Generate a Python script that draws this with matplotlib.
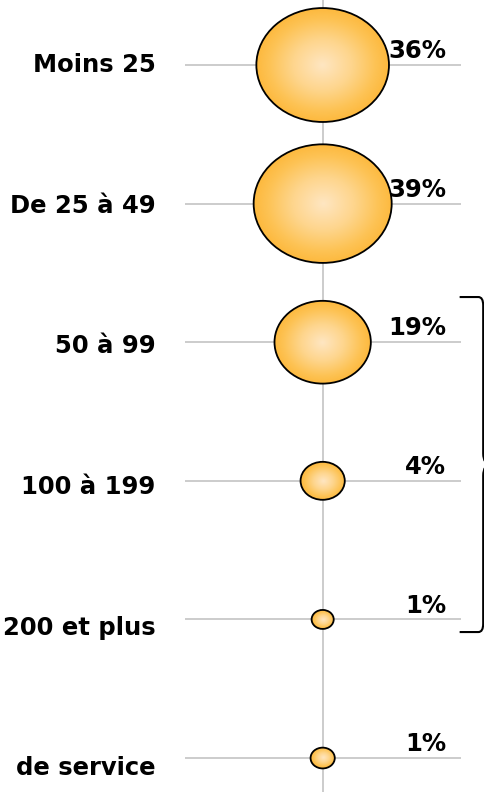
import numpy as np
import matplotlib
matplotlib.use('Agg')
import matplotlib.pyplot as plt
from matplotlib.patches import Ellipse, PathPatch
from matplotlib.path import Path
from matplotlib.colors import LinearSegmentedColormap

# tranches d'effectif et part des entreprises (%)
categories = ['Moins 25', 'De 25 à 49', '50 à 99', '100 à 199', '200 et plus', 'de service']
shares = [36, 39, 19, 4, 1, 1.2]

GRID = '#c4c4c4'
bubble_cmap = LinearSegmentedColormap.from_list(
    'bulle', [(0, '#ffe6c2'), (0.45, '#fed58c'), (0.8, '#fdc355'), (1, '#fdb93e')])
k = 0.137  # bubble diameter per sqrt(%)

fig = plt.figure(figsize=(4.84, 7.92), dpi=100)
ax = fig.add_axes([0, 0, 1, 1])
ax.set_axis_off()

ax.axvline(0, color=GRID, lw=1.2, zorder=1)

# radial gradient used to fill every bubble
yy, xx = np.mgrid[-1:1:201j, -1:1:201j]
grad = np.sqrt(xx**2 + yy**2)

for i, (cat, v) in enumerate(zip(categories, shares)):
    ax.hlines(i, -0.855, 0.855, color=GRID, lw=1.2, zorder=1)

    d = k * np.sqrt(v)
    ell = Ellipse((0, i), d, d, fc='none', ec='black', lw=1.3, zorder=4)
    ax.add_patch(ell)
    im = ax.imshow(grad, cmap=bubble_cmap, vmin=0, vmax=1, aspect='auto',
                   extent=(-d / 2, d / 2, i + d / 2, i - d / 2), zorder=3,
                   interpolation='bilinear')
    im.set_clip_path(ell)

    ax.text(-1.035, 0.05 + 1.015 * i, cat, ha='right', va='baseline',
            fontsize=17.5, fontweight='bold', family='DejaVu Sans', zorder=5)
    ax.text(0.765, i - 0.05, f'{v:.0f}%', ha='right', va='baseline',
            fontsize=17.5, fontweight='bold', family='DejaVu Sans', zorder=5)

# accolade regroupant les tranches 50 et plus
top, bot, xa, xv = 1.674, 4.091, 0.849, 0.995
mid = (top + bot) / 2
verts = [(xa, top), (xv - 0.03, top), (xv, top), (xv, top + 0.06),
         (xv, mid - 0.08), (xv, mid), (xv + 0.05, mid),
         (xv, mid), (xv, mid + 0.08),
         (xv, bot - 0.06), (xv, bot), (xv - 0.03, bot), (xa, bot)]
codes = [Path.MOVETO, Path.LINETO, Path.CURVE3, Path.CURVE3,
         Path.LINETO, Path.CURVE3, Path.CURVE3,
         Path.CURVE3, Path.CURVE3,
         Path.LINETO, Path.CURVE3, Path.CURVE3, Path.LINETO]
ax.add_patch(PathPatch(Path(verts, codes), fc='none', ec='black', lw=1.5, zorder=5))

ax.set_xlim(-2, 1)
ax.set_ylim(5.245, -0.469)

fig.savefig('out.png', dpi=100)
